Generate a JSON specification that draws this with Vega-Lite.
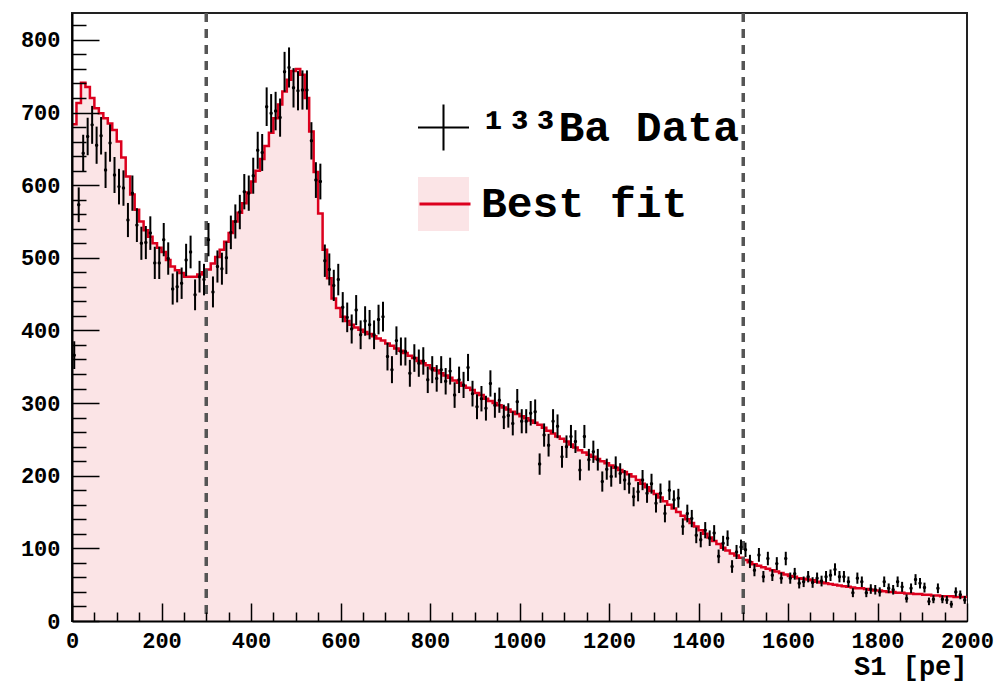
{
"$schema": "https://vega.github.io/schema/vega-lite/v6.json",
"width": 895, "height": 608,
"autosize": {"type": "none"},
"padding": {"left": 72, "top": 13, "right": 34, "bottom": 65},
"background": "white",
"config": {"view": {"stroke": "#222", "strokeWidth": 2}, "axis": {"grid": false}},
"datasets": {
"fit": [{"x":0,"f":684},{"x":10,"f":713},{"x":20,"f":741},{"x":30,"f":735},{"x":40,"f":720},{"x":50,"f":706},{"x":60,"f":699},{"x":70,"f":692},{"x":80,"f":685},{"x":90,"f":676},
{"x":100,"f":660},{"x":110,"f":638},{"x":120,"f":612},{"x":130,"f":587},{"x":140,"f":566},{"x":150,"f":550},{"x":160,"f":538},{"x":170,"f":529},{"x":180,"f":520},{"x":190,"f":514},
{"x":200,"f":508},{"x":210,"f":497},{"x":220,"f":488},{"x":230,"f":483},{"x":240,"f":479},{"x":250,"f":474},{"x":260,"f":474},{"x":270,"f":474},{"x":280,"f":477},{"x":290,"f":480},
{"x":300,"f":484},{"x":310,"f":492},{"x":320,"f":501},{"x":330,"f":511},{"x":340,"f":522},{"x":350,"f":534},{"x":360,"f":550},{"x":370,"f":562},{"x":380,"f":575},{"x":390,"f":590},
{"x":400,"f":605},{"x":410,"f":620},{"x":420,"f":636},{"x":430,"f":654},{"x":440,"f":672},{"x":450,"f":692},{"x":460,"f":711},{"x":470,"f":729},{"x":480,"f":745},{"x":490,"f":757},
{"x":500,"f":760},{"x":510,"f":752},{"x":520,"f":720},{"x":530,"f":674},{"x":540,"f":618},{"x":550,"f":561},{"x":560,"f":511},{"x":570,"f":472},{"x":580,"f":444},{"x":590,"f":431},
{"x":600,"f":419},{"x":610,"f":413},{"x":620,"f":408},{"x":630,"f":404},{"x":640,"f":401},{"x":650,"f":398},{"x":660,"f":395},{"x":670,"f":392},{"x":680,"f":389},{"x":690,"f":386},
{"x":700,"f":382},{"x":710,"f":379},{"x":720,"f":375},{"x":730,"f":372},{"x":740,"f":369},{"x":750,"f":365},{"x":760,"f":362},{"x":770,"f":358},{"x":780,"f":355},{"x":790,"f":352},
{"x":800,"f":348},{"x":810,"f":345},{"x":820,"f":341},{"x":830,"f":338},{"x":840,"f":335},{"x":850,"f":331},{"x":860,"f":328},{"x":870,"f":324},{"x":880,"f":321},{"x":890,"f":318},
{"x":900,"f":314},{"x":910,"f":311},{"x":920,"f":306},{"x":930,"f":303},{"x":940,"f":300},{"x":950,"f":297},{"x":960,"f":294},{"x":970,"f":291},{"x":980,"f":288},{"x":990,"f":285},
{"x":1000,"f":282},{"x":1010,"f":279},{"x":1020,"f":276},{"x":1030,"f":273},{"x":1040,"f":270},{"x":1050,"f":266},{"x":1060,"f":262},{"x":1070,"f":258},{"x":1080,"f":254},{"x":1090,"f":251},
{"x":1100,"f":247},{"x":1110,"f":243},{"x":1120,"f":239},{"x":1130,"f":235},{"x":1140,"f":232},{"x":1150,"f":229},{"x":1160,"f":226},{"x":1170,"f":223},{"x":1180,"f":220},{"x":1190,"f":217},
{"x":1200,"f":214},{"x":1210,"f":211},{"x":1220,"f":208},{"x":1230,"f":205},{"x":1240,"f":202},{"x":1250,"f":199},{"x":1260,"f":194},{"x":1270,"f":189},{"x":1280,"f":184},{"x":1290,"f":179},
{"x":1300,"f":175},{"x":1310,"f":170},{"x":1320,"f":165},{"x":1330,"f":160},{"x":1340,"f":155},{"x":1350,"f":150},{"x":1360,"f":145},{"x":1370,"f":140},{"x":1380,"f":135},{"x":1390,"f":130},
{"x":1400,"f":125},{"x":1410,"f":120},{"x":1420,"f":115},{"x":1430,"f":110},{"x":1440,"f":106},{"x":1450,"f":101},{"x":1460,"f":97},{"x":1470,"f":93},{"x":1480,"f":90},{"x":1490,"f":87},
{"x":1500,"f":84},{"x":1510,"f":81},{"x":1520,"f":78},{"x":1530,"f":76},{"x":1540,"f":74},{"x":1550,"f":72},{"x":1560,"f":70},{"x":1570,"f":68},{"x":1580,"f":66},{"x":1590,"f":64},
{"x":1600,"f":62},{"x":1610,"f":61},{"x":1620,"f":59},{"x":1630,"f":58},{"x":1640,"f":57},{"x":1650,"f":56},{"x":1660,"f":54},{"x":1670,"f":53},{"x":1680,"f":52},{"x":1690,"f":51},
{"x":1700,"f":50},{"x":1710,"f":49},{"x":1720,"f":48},{"x":1730,"f":47},{"x":1740,"f":46},{"x":1750,"f":45},{"x":1760,"f":45},{"x":1770,"f":44},{"x":1780,"f":43},{"x":1790,"f":42},
{"x":1800,"f":42},{"x":1810,"f":41},{"x":1820,"f":40},{"x":1830,"f":40},{"x":1840,"f":39},{"x":1850,"f":39},{"x":1860,"f":38},{"x":1870,"f":38},{"x":1880,"f":37},{"x":1890,"f":37},
{"x":1900,"f":36},{"x":1910,"f":36},{"x":1920,"f":35},{"x":1930,"f":35},{"x":1940,"f":34},{"x":1950,"f":34},{"x":1960,"f":34},{"x":1970,"f":33},{"x":1980,"f":33},{"x":1990,"f":33},{"x":2000,"f":33}],
"obs": [{"x":5,"c":366,"e":19.1},{"x":15,"c":573,"e":23.9},{"x":25,"c":644,"e":25.4},{"x":35,"c":667,"e":25.8},{"x":45,"c":683,"e":26.1},{"x":55,"c":655,"e":25.6},{"x":65,"c":668,"e":25.8},{"x":75,"c":621,"e":24.9},{"x":85,"c":658,"e":25.7},{"x":95,"c":614,"e":24.8},
{"x":105,"c":598,"e":24.5},{"x":115,"c":596,"e":24.4},{"x":125,"c":552,"e":23.5},{"x":135,"c":589,"e":24.3},{"x":145,"c":545,"e":23.3},{"x":155,"c":520,"e":22.8},{"x":165,"c":521,"e":22.8},{"x":175,"c":534,"e":23.1},{"x":185,"c":493,"e":22.2},{"x":195,"c":493,"e":22.2},
{"x":205,"c":525,"e":22.9},{"x":215,"c":499,"e":22.3},{"x":225,"c":457,"e":21.4},{"x":235,"c":460,"e":21.4},{"x":245,"c":465,"e":21.6},{"x":255,"c":497,"e":22.3},{"x":265,"c":508,"e":22.5},{"x":275,"c":449,"e":21.2},{"x":285,"c":474,"e":21.8},{"x":295,"c":470,"e":21.7},
{"x":305,"c":525,"e":22.9},{"x":315,"c":453,"e":21.3},{"x":325,"c":488,"e":22.1},{"x":335,"c":485,"e":22.0},{"x":345,"c":500,"e":22.4},{"x":355,"c":535,"e":23.1},{"x":365,"c":550,"e":23.5},{"x":375,"c":563,"e":23.7},{"x":385,"c":591,"e":24.3},{"x":395,"c":589,"e":24.3},
{"x":405,"c":613,"e":24.8},{"x":415,"c":648,"e":25.5},{"x":425,"c":645,"e":25.4},{"x":435,"c":708,"e":26.6},{"x":445,"c":699,"e":26.4},{"x":455,"c":702,"e":26.5},{"x":465,"c":693,"e":26.3},{"x":475,"c":756,"e":27.5},{"x":485,"c":762,"e":27.6},{"x":495,"c":734,"e":27.1},
{"x":505,"c":730,"e":27.0},{"x":515,"c":731,"e":27.0},{"x":525,"c":731,"e":27.0},{"x":535,"c":661,"e":25.7},{"x":545,"c":607,"e":24.6},{"x":555,"c":605,"e":24.6},{"x":565,"c":496,"e":22.3},{"x":575,"c":484,"e":22.0},{"x":585,"c":462,"e":21.5},{"x":595,"c":470,"e":21.7},
{"x":605,"c":432,"e":20.8},{"x":615,"c":418,"e":20.4},{"x":625,"c":402,"e":20.0},{"x":635,"c":428,"e":20.7},{"x":645,"c":394,"e":19.8},{"x":655,"c":413,"e":20.3},{"x":665,"c":408,"e":20.2},{"x":675,"c":394,"e":19.8},{"x":685,"c":415,"e":20.4},{"x":695,"c":419,"e":20.5},
{"x":705,"c":364,"e":19.1},{"x":715,"c":346,"e":18.6},{"x":725,"c":386,"e":19.6},{"x":735,"c":371,"e":19.3},{"x":745,"c":371,"e":19.3},{"x":755,"c":341,"e":18.5},{"x":765,"c":362,"e":19.0},{"x":775,"c":355,"e":18.8},{"x":785,"c":358,"e":18.9},{"x":795,"c":332,"e":18.2},
{"x":805,"c":346,"e":18.6},{"x":815,"c":334,"e":18.3},{"x":825,"c":346,"e":18.6},{"x":835,"c":330,"e":18.2},{"x":845,"c":344,"e":18.5},{"x":855,"c":311,"e":17.6},{"x":865,"c":332,"e":18.2},{"x":875,"c":325,"e":18.0},{"x":885,"c":349,"e":18.7},{"x":895,"c":313,"e":17.7},
{"x":905,"c":295,"e":17.2},{"x":915,"c":306,"e":17.5},{"x":925,"c":293,"e":17.1},{"x":935,"c":327,"e":18.1},{"x":945,"c":297,"e":17.2},{"x":955,"c":304,"e":17.4},{"x":965,"c":281,"e":16.8},{"x":975,"c":283,"e":16.8},{"x":985,"c":272,"e":16.5},{"x":995,"c":302,"e":17.4},
{"x":1005,"c":275,"e":16.6},{"x":1015,"c":275,"e":16.6},{"x":1025,"c":286,"e":16.9},{"x":1035,"c":288,"e":17.0},{"x":1045,"c":216,"e":14.7},{"x":1055,"c":256,"e":16.0},{"x":1065,"c":242,"e":15.6},{"x":1075,"c":275,"e":16.6},{"x":1085,"c":268,"e":16.4},{"x":1095,"c":226,"e":15.0},
{"x":1105,"c":240,"e":15.5},{"x":1115,"c":254,"e":15.9},{"x":1125,"c":247,"e":15.7},{"x":1135,"c":208,"e":14.4},{"x":1145,"c":254,"e":15.9},{"x":1155,"c":222,"e":14.9},{"x":1165,"c":233,"e":15.3},{"x":1175,"c":222,"e":14.9},{"x":1185,"c":192,"e":13.9},{"x":1195,"c":209,"e":14.5},
{"x":1205,"c":199,"e":14.1},{"x":1215,"c":212,"e":14.6},{"x":1225,"c":203,"e":14.2},{"x":1235,"c":194,"e":13.9},{"x":1245,"c":189,"e":13.7},{"x":1255,"c":171,"e":13.1},{"x":1265,"c":178,"e":13.3},{"x":1275,"c":194,"e":13.9},{"x":1285,"c":176,"e":13.3},{"x":1295,"c":189,"e":13.7},
{"x":1305,"c":162,"e":12.7},{"x":1315,"c":176,"e":13.3},{"x":1325,"c":148,"e":12.2},{"x":1335,"c":180,"e":13.4},{"x":1345,"c":167,"e":12.9},{"x":1355,"c":169,"e":13.0},{"x":1365,"c":130,"e":11.4},{"x":1375,"c":148,"e":12.2},{"x":1385,"c":141,"e":11.9},{"x":1395,"c":118,"e":10.9},
{"x":1405,"c":112,"e":10.6},{"x":1415,"c":125,"e":11.2},{"x":1425,"c":114,"e":10.7},{"x":1435,"c":121,"e":11.0},{"x":1445,"c":89,"e":9.4},{"x":1455,"c":107,"e":10.3},{"x":1465,"c":114,"e":10.7},{"x":1475,"c":75,"e":8.7},{"x":1485,"c":95,"e":9.7},{"x":1495,"c":102,"e":10.1},
{"x":1505,"c":98,"e":9.9},{"x":1515,"c":82,"e":9.1},{"x":1525,"c":70,"e":8.4},{"x":1535,"c":91,"e":9.5},{"x":1545,"c":61,"e":7.8},{"x":1555,"c":86,"e":9.3},{"x":1565,"c":63,"e":7.9},{"x":1575,"c":79,"e":8.9},{"x":1585,"c":59,"e":7.7},{"x":1595,"c":86,"e":9.3},
{"x":1605,"c":59,"e":7.7},{"x":1615,"c":65,"e":8.1},{"x":1625,"c":52,"e":7.2},{"x":1635,"c":54,"e":7.3},{"x":1645,"c":61,"e":7.8},{"x":1655,"c":53,"e":7.3},{"x":1665,"c":59,"e":7.7},{"x":1675,"c":55,"e":7.4},{"x":1685,"c":61,"e":7.8},{"x":1695,"c":63,"e":7.9},
{"x":1705,"c":71,"e":8.4},{"x":1715,"c":61,"e":7.8},{"x":1725,"c":61,"e":7.8},{"x":1735,"c":54,"e":7.3},{"x":1745,"c":39,"e":6.2},{"x":1755,"c":59,"e":7.7},{"x":1765,"c":54,"e":7.3},{"x":1775,"c":39,"e":6.2},{"x":1785,"c":44,"e":6.6},{"x":1795,"c":43,"e":6.6},
{"x":1805,"c":40,"e":6.3},{"x":1815,"c":54,"e":7.3},{"x":1825,"c":45,"e":6.7},{"x":1835,"c":43,"e":6.6},{"x":1845,"c":54,"e":7.3},{"x":1855,"c":47,"e":6.9},{"x":1865,"c":31,"e":5.6},{"x":1875,"c":45,"e":6.7},{"x":1885,"c":57,"e":7.5},{"x":1895,"c":52,"e":7.2},
{"x":1905,"c":46,"e":6.8},{"x":1915,"c":27,"e":5.2},{"x":1925,"c":30,"e":5.5},{"x":1935,"c":45,"e":6.7},{"x":1945,"c":30,"e":5.5},{"x":1955,"c":29,"e":5.4},{"x":1965,"c":23,"e":4.8},{"x":1975,"c":40,"e":6.3},{"x":1985,"c":36,"e":6.0},{"x":1995,"c":29,"e":5.4}],
"cut": [{"x":300},{"x":1500}],
"lg": [{"s":"¹³³Ba Data","k":"d"},{"s":"Best fit","k":"f"}]
},
"resolve": {"axis": {"x": "independent", "y": "independent"}},
"layer": [
{"data": {"name": "fit"},
 "mark": {"type": "area", "interpolate": "step-after", "color": "#fbe4e6"},
 "encoding": {
  "x": {"field": "x", "type": "quantitative", "scale": {"domain": [0, 2000], "nice": false, "zero": false},
   "axis": {"orient": "bottom", "zindex": 4, "values": [0,200,400,600,800,1000,1200,1400,1600,1800,2000], "format": "d", "ticks": true, "tickSize": -18, "tickColor": "#000", "tickWidth": 1.5, "domainColor": "#000", "domainWidth": 2,
    "labelFont": "Liberation Mono", "labelFontSize": 22, "labelFontWeight": "bold", "labelColor": "#000", "labelPadding": 27, "labelFlush": false, "labelOverlap": false,
    "title": "S1 [pe]", "titleFont": "Liberation Mono", "titleFontSize": 27, "titleFontWeight": "bold", "titleColor": "#000", "titleAnchor": "end", "titlePadding": 2}},
  "y": {"field": "f", "type": "quantitative", "scale": {"domain": [0, 837], "nice": false},
   "axis": {"orient": "left", "zindex": 4, "values": [0,100,200,300,400,500,600,700,800], "format": "d", "ticks": true, "tickSize": -27, "tickColor": "#000", "tickWidth": 1.5, "domainColor": "#000", "domainWidth": 2,
    "labelFont": "Liberation Mono", "labelFontSize": 22, "labelFontWeight": "bold", "labelColor": "#000", "labelPadding": 39, "labelFlush": false, "labelOverlap": false, "title": null}}
 }},
{"data": {"name": "fit"},
 "mark": {"type": "line", "interpolate": "step-after", "color": "#dc001e", "strokeWidth": 2.5},
 "encoding": {
  "x": {"field": "x", "type": "quantitative",
   "axis": {"orient": "bottom", "zindex": 3, "offset": -9, "values": [50,100,150,250,300,350,450,500,550,650,700,750,850,900,950,1050,1100,1150,1250,1300,1350,1450,1500,1550,1650,1700,1750,1850,1900,1950], "labelColor": "transparent", "labelFontSize": 1, "domainColor": "transparent", "ticks": true, "tickSize": 9, "tickColor": "#000", "tickWidth": 1.5, "title": null}},
  "y": {"field": "f", "type": "quantitative",
   "axis": {"orient": "left", "zindex": 3, "offset": -14, "values": [20,40,60,80,120,140,160,180,220,240,260,280,320,340,360,380,420,440,460,480,520,540,560,580,620,640,660,680,720,740,760,780,820], "labelColor": "transparent", "labelFontSize": 1, "domainColor": "transparent", "ticks": true, "tickSize": 14, "tickColor": "#000", "tickWidth": 1.5, "title": null}}
 }},
{"data": {"name": "cut"},
 "mark": {"type": "rule", "color": "#555", "strokeWidth": 3.5, "strokeDash": [9, 7]},
 "encoding": {"x": {"field": "x", "type": "quantitative", "axis": null}}},
{"data": {"name": "obs"},
 "mark": {"type": "errorbar", "ticks": false, "rule": {"strokeWidth": 2, "color": "#000"}},
 "encoding": {
  "x": {"field": "x", "type": "quantitative", "axis": null},
  "y": {"field": "c", "type": "quantitative", "axis": null},
  "yError": {"field": "e"}
 }},
{"data": {"name": "obs"},
 "mark": {"type": "point", "filled": true, "color": "#000", "size": 12, "opacity": 1},
 "encoding": {
  "x": {"field": "x", "type": "quantitative", "axis": null},
  "y": {"field": "c", "type": "quantitative", "axis": null}
 }},
{"data": {"name": "lg"},
 "mark": {"type": "point", "filled": true, "opacity": 0, "strokeWidth": 0},
 "encoding": {
  "fill": {"field": "s", "type": "nominal", "scale": {"domain": ["¹³³Ba Data", "Best fit"], "range": ["#000000", "#fbe4e6"]},
   "legend": {"orient": "none", "legendX": 346, "legendY": 87.5, "title": null, "padding": 0, "offset": 0, "clipHeight": 54, "rowPadding": 22.5, "symbolSize": 2601, "symbolStrokeWidth": 0, "symbolOpacity": 1, "labelFont": "Liberation Mono", "labelFontSize": 43, "labelFontWeight": "bold", "labelColor": "#000", "labelOffset": 12, "labelLimit": 800}},
  "shape": {"field": "s", "type": "nominal", "scale": {"domain": ["¹³³Ba Data", "Best fit"], "range": ["M-1,-0.04H1V0.04H-1Z M-0.04,-0.9H0.04V0.9H-0.04Z", "M-1,-1.06H1V1.06H-1Z"]},
   "legend": {"orient": "none", "legendX": 346, "legendY": 87.5, "title": null, "padding": 0, "offset": 0, "clipHeight": 54, "rowPadding": 22.5, "symbolSize": 2601, "symbolStrokeWidth": 0, "symbolOpacity": 1, "labelFont": "Liberation Mono", "labelFontSize": 43, "labelFontWeight": "bold", "labelColor": "#000", "labelOffset": 12, "labelLimit": 800}}
 }},
{"data": {"name": "lg"},
 "mark": {"type": "point", "filled": false, "opacity": 0, "shape": "M-1,0H1", "strokeWidth": 3},
 "encoding": {
  "stroke": {"field": "k", "type": "nominal", "scale": {"domain": ["d", "f"], "range": ["transparent", "#dc001e"]},
   "legend": {"orient": "none", "legendX": 346, "legendY": 87.5, "title": null, "padding": 0, "offset": 0, "clipHeight": 54, "rowPadding": 22.5, "symbolSize": 2601, "symbolType": "M-1,0H1", "symbolStrokeWidth": 3, "symbolFillColor": "transparent", "symbolOpacity": 1, "labelExpr": "''", "labelFontSize": 43, "labelOffset": 12}}
 }}
]
}
